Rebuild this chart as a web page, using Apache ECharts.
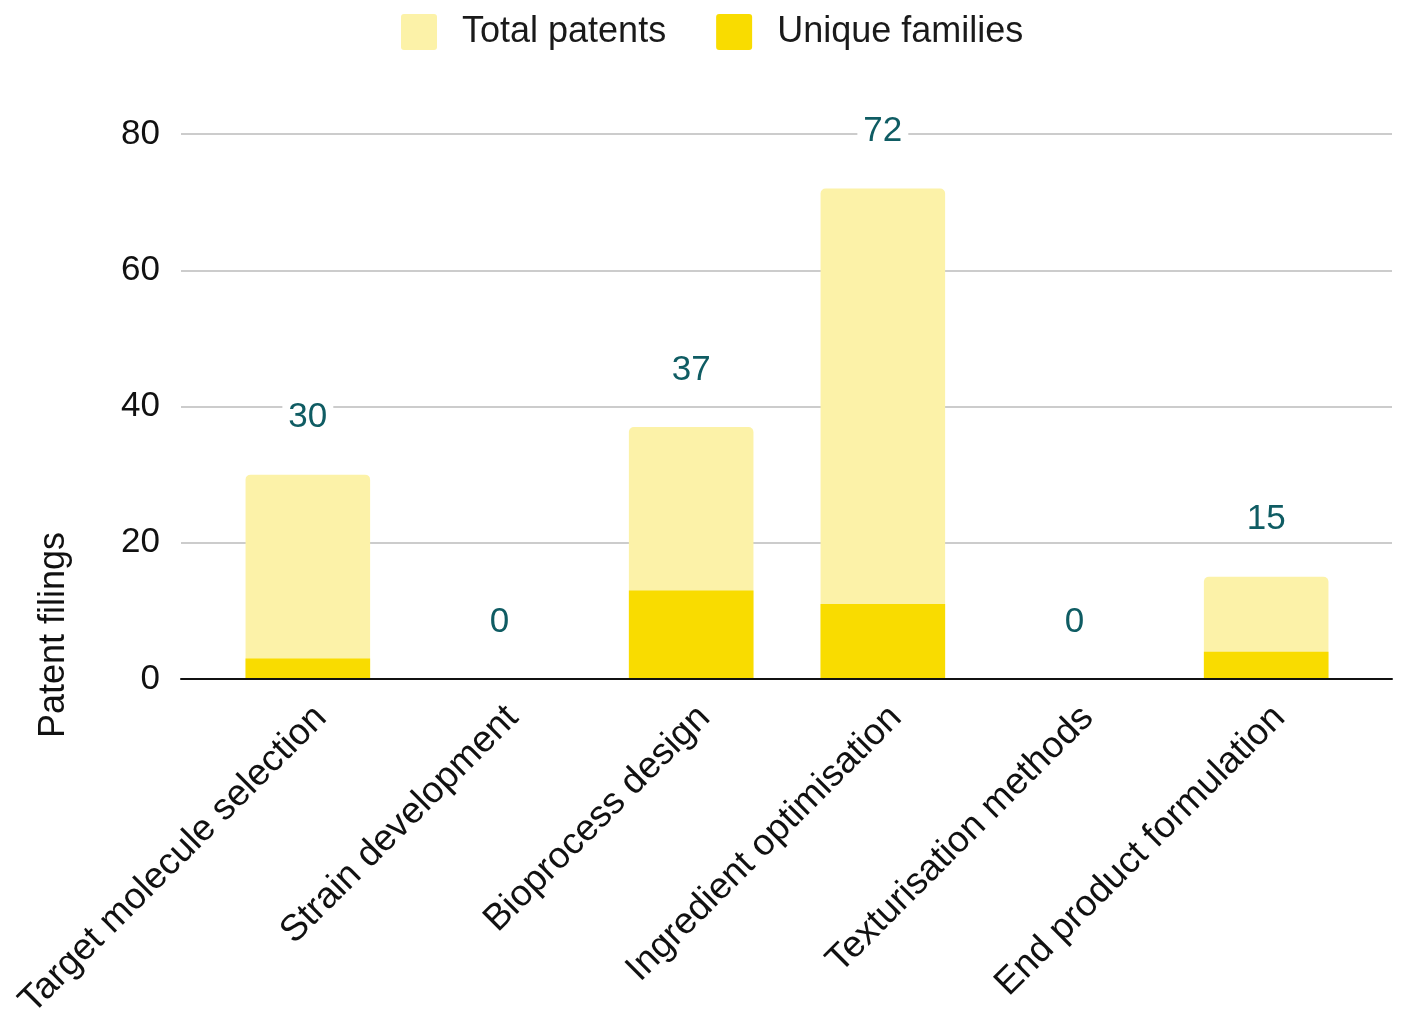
<!DOCTYPE html>
<html>
<head>
<meta charset="utf-8">
<script src="https://cdn.jsdelivr.net/npm/echarts@6/dist/echarts.min.js"></script>
<style>
  html, body { margin: 0; padding: 0; background: #fff; }
  #chart { width: 1401px; height: 1011px; }
</style>
</head>
<body>
<div id="chart"></div>
<script>
  // categories and values
  const categories = [
    'Target molecule selection',
    'Strain development',
    'Bioprocess design',
    'Ingredient optimisation',
    'Texturisation methods',
    'End product formulation'
  ];
  const totalPatents = [30, 0, 37, 72, 0, 15];
  const uniqueFamilies = [3, 0, 13, 11, 0, 4];
  const yTicks = [0, 20, 40, 60, 80];

  const font = 'Liberation Sans, Arial, sans-serif';
  const chart = echarts.init(document.getElementById('chart'));

  // small rounded square for the legend keys
  const keyIcon = 'path://M3,0H33Q36,0,36,3V33Q36,36,33,36H3Q0,36,0,33V3Q0,0,3,0Z';

  const option = {
    backgroundColor: '#fff',
    animation: false,
    textStyle: { fontFamily: font },
    legend: {
      top: 9,
      left: 396,
      itemWidth: 36,
      itemHeight: 36,
      itemGap: 50,
      icon: keyIcon,
      textStyle: { fontSize: 36, color: '#1a1a1a', fontFamily: font, padding: [0, 0, 0, 20] },
      data: ['Total patents', 'Unique families']
    },
    // grid 0: gridlines, y labels, baseline; grid 1: the bars (narrower band)
    grid: [
      { left: 181, right: 9, top: 134, bottom: 332, outerBoundsMode: 'none', containLabel: false },
      { left: 212, right: 39, top: 134, bottom: 332, outerBoundsMode: 'none', containLabel: false }
    ],
    graphic: [{
      type: 'text',
      x: 54,
      y: 635,
      rotation: Math.PI / 2,
      style: {
        text: 'Patent filings',
        font: '36px ' + font,
        fill: '#111',
        align: 'center',
        verticalAlign: 'middle'
      }
    }],
    xAxis: [
      {
        type: 'category',
        gridIndex: 0,
        data: categories,
        z: 10,
        axisLine: { lineStyle: { color: '#111', width: 2 } },
        axisTick: { show: false },
        axisLabel: { show: false }
      },
      {
        type: 'category',
        gridIndex: 1,
        data: categories,
        axisLine: { show: false },
        axisTick: { show: false },
        axisLabel: {
          rotate: 45,
          interval: 0,
          margin: 20,
          fontSize: 37,
          verticalAlign: 'top',
          color: '#111',
          fontFamily: font
        }
      }
    ],
    yAxis: [
      {
        type: 'value',
        gridIndex: 0,
        min: yTicks[0],
        max: yTicks[yTicks.length - 1],
        interval: 20,
        axisLine: { show: false },
        axisTick: { show: false },
        axisLabel: { fontSize: 35, color: '#111', margin: 21, fontFamily: font },
        splitLine: { lineStyle: { color: '#cccccc', width: 2 } }
      },
      {
        type: 'value',
        gridIndex: 1,
        min: yTicks[0],
        max: yTicks[yTicks.length - 1],
        interval: 20,
        show: false
      }
    ],
    series: [
      {
        name: 'Total patents',
        type: 'bar',
        xAxisIndex: 1,
        yAxisIndex: 1,
        data: totalPatents,
        barWidth: '65%',
        barGap: '-100%',
        itemStyle: { color: '#FCF2A8', borderRadius: [5, 5, 0, 0] },
        label: {
          show: true,
          position: 'top',
          distance: 37,
          fontSize: 35,
          lineHeight: 36,
          color: '#0f5c63',
          backgroundColor: '#fff',
          padding: [2, 6],
          fontFamily: font
        },
        z: 2
      },
      {
        name: 'Unique families',
        type: 'bar',
        xAxisIndex: 1,
        yAxisIndex: 1,
        data: uniqueFamilies,
        barWidth: '65%',
        itemStyle: { color: '#F9DC00' },
        z: 3
      }
    ]
  };

  chart.setOption(option);
</script>
</body>
</html>
